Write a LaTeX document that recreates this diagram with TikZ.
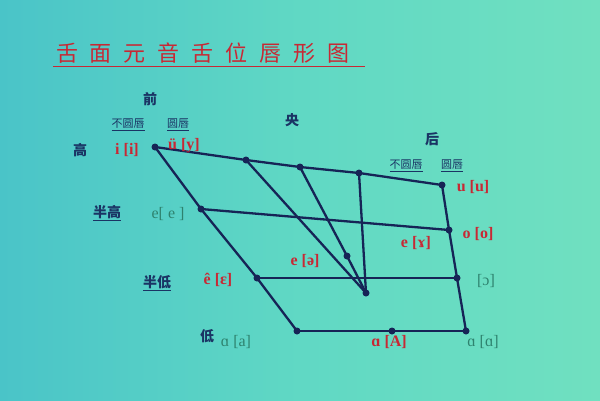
\documentclass[tikz,border=0pt]{standalone}
\usepackage{fontspec}
\setmainfont{Liberation Serif}
\newfontfamily\cjk{Noto Sans CJK SC}
\usetikzlibrary{shadings}
\definecolor{bgA}{RGB}{74,196,200}
\definecolor{bgM}{RGB}{96,216,196}
\definecolor{bgB}{RGB}{112,224,192}
\definecolor{navy}{RGB}{22,36,86}
\definecolor{redt}{RGB}{200,40,52}
\definecolor{greent}{RGB}{46,130,110}
\definecolor{bluet}{RGB}{26,52,100}
\tikzset{
  dot/.style={circle,fill=navy,inner sep=0pt,minimum size=7pt},
  ln/.style={draw=navy,line width=2.3pt},
  red/.style={text=redt,font=\bfseries\fontsize{16}{16}\selectfont,inner sep=1pt},
  grn/.style={text=greent,font=\bfseries\fontsize{16}{16}\selectfont,inner sep=1pt},
  lab/.style={text=bluet,font=\cjk\bfseries\fontsize{14}{14}\selectfont,inner sep=1pt},
  ulab/.style={text=bluet,font=\cjk\fontsize{11}{11}\selectfont,inner sep=1pt},
}
\begin{document}
\begin{tikzpicture}[x=1pt,y=-1pt]
\useasboundingbox (0,0) rectangle (600,400);
\shade[left color=bgA,right color=bgB,middle color=bgM] (0,0) rectangle (600,400);
% title
\node[text=redt,font=\cjk\fontsize{22}{22}\selectfont,inner sep=0pt] (title) at (203,53)
  {舌\hspace{12pt}面\hspace{12pt}元\hspace{12pt}音\hspace{12pt}舌\hspace{12pt}位\hspace{12pt}唇\hspace{12pt}形\hspace{12pt}图};
\draw[redt,line width=1.3pt] (title.south west)++(-3,3) coordinate (tl1) -- ++(312,0) coordinate (tl2);
% dots
\node[dot] (TL) at (155,147) {};
\node[dot] (T1) at (246,160) {};
\node[dot] (T2) at (300,167) {};
\node[dot] (T3) at (359,173) {};
\node[dot] (TR) at (442,185) {};
\node[dot] (HL) at (201,209) {};
\node[dot] (HR) at (449,230) {};
\node[dot] (LL) at (257,278) {};
\node[dot] (LR) at (457,278) {};
\node[dot] (BL) at (297,331) {};
\node[dot] (BM) at (392,331) {};
\node[dot] (BR) at (466,331) {};
\node[dot] (C) at (366,293) {};
\node[dot] (CM) at (347,256) {};
% lines
\draw[ln] (TL.center) -- (T1.center) -- (T2.center) -- (T3.center) -- (TR.center);
\draw[ln] (TL.center) -- (HL.center) -- (LL.center) -- (BL.center);
\draw[ln] (TR.center) -- (HR.center) -- (LR.center) -- (BR.center);
\draw[ln] (HL.center) -- (HR.center);
\draw[ln] (LL.center) -- (LR.center);
\draw[ln] (BL.center) -- (BM.center) -- (BR.center);
\draw[ln] (T1.center) -- (C.center);
\draw[ln] (T2.center) -- (CM.center) -- (C.center);
\draw[ln] (T3.center) -- (C.center);
% labels
\node[lab] (qian) at (150,99) {前};
\node[ulab] (q1) at (128,125) {\underline{不圆唇}};
\node[ulab] (q2) at (178,125) {\underline{圆唇}};
\node[lab] (gao) at (80,150) {高};
\node[red] (i) at (127,150) {i [i]};
\node[red] (y) at (184,146) {ü [y]};
\node[lab] (yang) at (292,120) {央};
\node[lab] (hou) at (432,139) {后};
\node[ulab] (h1) at (406,166) {\underline{不圆唇}};
\node[ulab] (h2) at (452,166) {\underline{圆唇}};
\node[red] (u) at (473,187) {u [u]};
\node[lab] (bg) at (107,213) {\underline{半高}};
\node[grn,font=\fontsize{16}{16}\selectfont] (e) at (168,214) {e[ e ]};
\node[red] (gam) at (416,243) {e [ɤ]};
\node[red] (o) at (478,234) {o [o]};
\node[red] (schwa) at (305,261) {e [ə]};
\node[lab] (bd) at (157,283) {\underline{半低}};
\node[red] (eps) at (218,280) {ê [ɛ]};
\node[grn,font=\fontsize{16}{16}\selectfont] (oo) at (486,281) {[ɔ]};
\node[lab] (di) at (207,336) {低};
\node[grn,font=\fontsize{16}{16}\selectfont] (a1) at (236,342) {ɑ [a]};
\node[red] (a2) at (389,342) {ɑ [A]};
\node[grn,font=\fontsize{16}{16}\selectfont] (a3) at (483,342) {ɑ [ɑ]};
\end{tikzpicture}
\end{document}
